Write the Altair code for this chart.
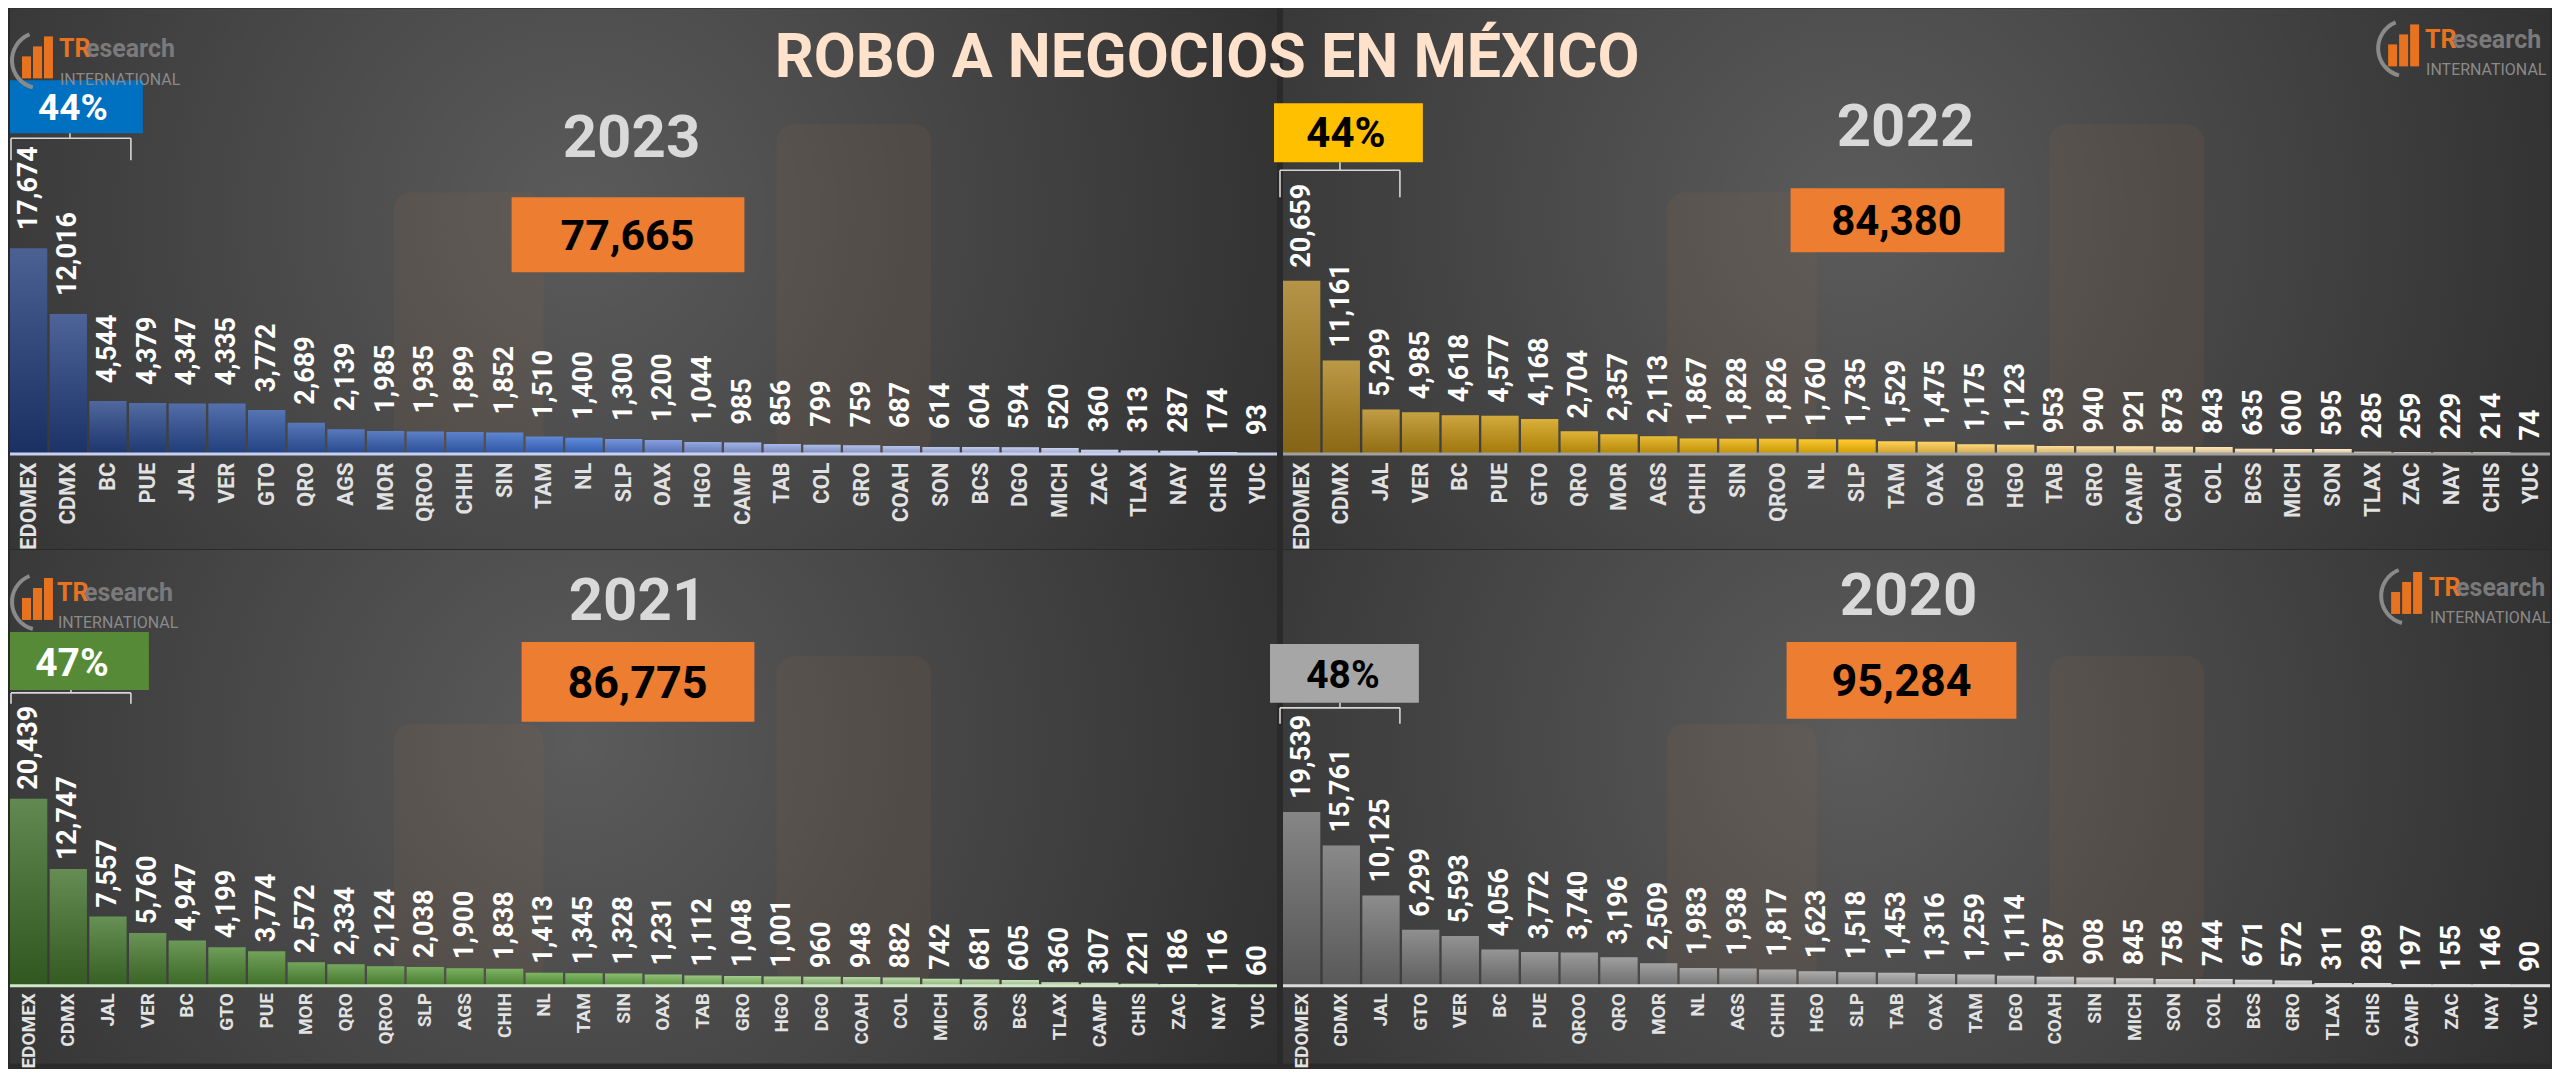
import altair as alt
import pandas as pd

# ---------------- data ----------------
title_text = "ROBO A NEGOCIOS EN MÉXICO"
years = ["2023", "2022", "2021", "2020"]
top_share = ["44%", "44%", "47%", "48%"]

cats_2023 = ["EDOMEX", "CDMX", "BC", "PUE", "JAL", "VER", "GTO", "QRO", "AGS", "MOR", "QROO", "CHIH",
             "SIN", "TAM", "NL", "SLP", "OAX", "HGO", "CAMP", "TAB", "COL", "GRO", "COAH", "SON",
             "BCS", "DGO", "MICH", "ZAC", "TLAX", "NAY", "CHIS", "YUC"]
vals_2023 = [17674, 12016, 4544, 4379, 4347, 4335, 3772, 2689, 2139, 1985, 1935, 1899,
             1852, 1510, 1400, 1300, 1200, 1044, 985, 856, 799, 759, 687, 614,
             604, 594, 520, 360, 313, 287, 174, 93]

cats_2022 = ["EDOMEX", "CDMX", "JAL", "VER", "BC", "PUE", "GTO", "QRO", "MOR", "AGS", "CHIH", "SIN",
             "QROO", "NL", "SLP", "TAM", "OAX", "DGO", "HGO", "TAB", "GRO", "CAMP", "COAH", "COL",
             "BCS", "MICH", "SON", "TLAX", "ZAC", "NAY", "CHIS", "YUC"]
vals_2022 = [20659, 11161, 5299, 4985, 4618, 4577, 4168, 2704, 2357, 2113, 1867, 1828,
             1826, 1760, 1735, 1529, 1475, 1175, 1123, 953, 940, 921, 873, 843,
             635, 600, 595, 285, 259, 229, 214, 74]

cats_2021 = ["EDOMEX", "CDMX", "JAL", "VER", "BC", "GTO", "PUE", "MOR", "QRO", "QROO", "SLP", "AGS",
             "CHIH", "NL", "TAM", "SIN", "OAX", "TAB", "GRO", "HGO", "DGO", "COAH", "COL", "MICH",
             "SON", "BCS", "TLAX", "CAMP", "CHIS", "ZAC", "NAY", "YUC"]
vals_2021 = [20439, 12747, 7557, 5760, 4947, 4199, 3774, 2572, 2334, 2124, 2038, 1900,
             1838, 1413, 1345, 1328, 1231, 1112, 1048, 1001, 960, 948, 882, 742,
             681, 605, 360, 307, 221, 186, 116, 60]

cats_2020 = ["EDOMEX", "CDMX", "JAL", "GTO", "VER", "BC", "PUE", "QROO", "QRO", "MOR", "NL", "AGS",
             "CHIH", "HGO", "SLP", "TAB", "OAX", "TAM", "DGO", "COAH", "SIN", "MICH", "SON", "COL",
             "BCS", "GRO", "TLAX", "CHIS", "CAMP", "ZAC", "NAY", "YUC"]
vals_2020 = [19539, 15761, 10125, 6299, 5593, 4056, 3772, 3740, 3196, 2509, 1983, 1938,
             1817, 1623, 1518, 1453, 1316, 1259, 1114, 987, 908, 845, 758, 744,
             671, 572, 311, 289, 197, 155, 146, 90]

# ---------------- style helpers ----------------
FONT = "Roboto, 'Liberation Sans', sans-serif"
W = 1268
ONE = pd.DataFrame({"k": [0]})


def one():
    return alt.Chart(ONE)


def text(t, x, y, size, color, align="center", weight="bold"):
    return one().mark_text(text=t, align=align, baseline="alphabetic", font=FONT,
                           fontSize=size, fontWeight=weight, color=color
                           ).encode(x=alt.value(x), y=alt.value(y))


def rect(x1, x2, y1, y2, color, **kw):
    return one().mark_rect(color=color, **kw).encode(
        x=alt.value(x1), x2=alt.value(x2), y=alt.value(y1), y2=alt.value(y2))


def rule(x1, x2, y1, y2, color="#d6d6d6", w=1.6):
    return one().mark_rule(color=color, strokeWidth=w).encode(
        x=alt.value(x1), x2=alt.value(x2), y=alt.value(y1), y2=alt.value(y2))


def logo(ix, iy, tx, tb, ib):
    orange = "#E8731F"
    return [
        one().mark_arc(theta=3.4, theta2=5.9, radius=30, radius2=26, color="#8a8a8a").encode(
            x=alt.value(ix + 30), y=alt.value(iy + 30)),
        rect(ix + 12, ix + 21, iy + 26, iy + 48, orange),
        rect(ix + 23, ix + 32, iy + 16, iy + 48, orange),
        rect(ix + 34, ix + 43, iy + 6, iy + 48, orange),
        text("TR", tx, tb, 25, orange, align="left"),
        text("esearch", tx + 27, tb, 25, "#7a7a7a", align="left"),
        text("INTERNATIONAL", tx + 1, ib, 16, "#8a8a8a", align="left", weight="normal"),
    ]


def bracket(x1, x2, xm, ytop, yh, ybot):
    return [rule(x1, x2, yh, yh), rule(x1, x1, yh, ybot), rule(x2, x2, yh, ybot), rule(xm, xm, ytop, yh)]


def build_panel(cats, vals, year, share, s):
    H = s["H"]
    df = pd.DataFrame({"estado": cats, "robos": vals})
    df["orden"] = list(range(len(cats)))

    bg = rect(0, W, 0, s["bg_h"], alt.Gradient(
        gradient="radial",
        stops=[alt.GradientStop(color="#5b5b5b", offset=0),
               alt.GradientStop(color="#3c3c3c", offset=0.6),
               alt.GradientStop(color="#272727", offset=1)],
        x1=0.45, y1=0.45, x2=0.45, y2=0.45, r1=0, r2=0.72))
    wm = [rect(384, 534, H - 262, H, "#C87944", opacity=0.07, cornerRadius=18),
          rect(767, 922, H - 330, H, "#C87944", opacity=0.07, cornerRadius=18)]

    xenc = alt.X("estado:N", sort=cats, title=None,
                 scale=alt.Scale(paddingInner=0.06, paddingOuter=0),
                 axis=alt.Axis(labelAngle=270, labelFont=FONT, labelFontSize=s["lab_size"],
                               labelFontWeight="bold", labelColor="#e2e2e2",
                               labelPadding=s["lab_pad"], domain=False, ticks=False,
                               grid=False, labelOverlap=False, zindex=1))
    yenc = alt.Y("robos:Q", axis=None, scale=alt.Scale(domain=[0, s["ymax"]], nice=False))
    base = alt.Chart(df).encode(x=xenc, y=yenc)
    bars = base.mark_bar().encode(
        color=alt.Color("orden:Q", legend=None,
                        scale=alt.Scale(domain=s["cdom"], range=s["crange"])))
    shade = base.mark_bar(color=alt.Gradient(
        gradient="linear",
        stops=[alt.GradientStop(color="rgba(255,255,255,0.20)", offset=0),
               alt.GradientStop(color="rgba(0,0,0,0.18)", offset=1)],
        x1=0, x2=0, y1=0, y2=1))
    baseline = rule(0, W, H, H, color=s["base_color"], w=3)
    labels = base.mark_text(angle=270, align="left", baseline="middle", dx=s["dx"], font=FONT,
                            fontSize=27, fontWeight="bold", color="#ffffff"
                            ).encode(text=alt.Text("robos:Q", format=","))

    total = f"{sum(vals):,}"
    px1, px2, py1, py2 = s["pct_box"]
    tx1, tx2, ty1, ty2 = s["tot_box"]
    ann = [
        text(year, s["year"][0], s["year"][1], 60, "#d9d9d9"),
        rect(tx1, tx2, ty1, ty2, "#ED7D31"),
        text(total, s["tot_txt"][0], s["tot_txt"][1], s["tot_txt"][2], "#000000"),
        rect(px1, px2, py1, py2, s["pct_fill"]),
        text(share, s["pct_txt"][0], s["pct_txt"][1], s["pct_txt"][2], s["pct_color"]),
    ]
    ann += bracket(*s["bracket"])
    ann += logo(*s["logo"])
    if s.get("title"):
        ann.append(text(title_text, s["title"][0], s["title"][1], 61, "#FFE2CC"))

    layers = [bg] + wm + [bars, shade, baseline, labels] + ann
    return alt.layer(*layers).properties(width=W, height=H)


H1, H2 = 446, 436
styles = {
    "2023": dict(H=H1, bg_h=H1 + 95, ymax=38250, lab_size=22, lab_pad=8, dx=18,
                 cdom=[0, 6, 14, 18, 31],
                 crange=["#203a78", "#2c52a0", "#3b6fd2", "#8ca0e0", "#dde2f6"],
                 base_color="#c9d0ee",
                 year=(622, 149), tot_box=(502, 735, 189, 264), tot_txt=(618, 242, 43),
                 pct_box=(0, 133, 72, 125), pct_fill="#0070C0", pct_txt=(63, 112, 37),
                 pct_color="#ffffff", bracket=(1, 121, 60, 125, 130, 152),
                 logo=(0, 22, 49, 49, 77)),
    "2022": dict(H=H1, bg_h=H1 + 95, ymax=53100, lab_size=22, lab_pad=8, dx=13,
                 cdom=[0, 6, 14, 20, 31],
                 crange=["#a37a1a", "#d09c08", "#ffc000", "#ffdc90", "#fff2e0"],
                 base_color="#a0a0a0",
                 year=(623, 138), tot_box=(508, 722, 180, 244), tot_txt=(614, 227, 42),
                 pct_box=(-9, 140, 95, 154), pct_fill="#FFC000", pct_txt=(63, 139, 42),
                 pct_color="#000000", bracket=(-3, 117, 57, 154, 162, 189),
                 logo=(1094, 10, 1143, 40, 67), title=(-76, 69)),
    "2021": dict(H=H2, bg_h=H2 + 78, ymax=47650, lab_size=19, lab_pad=7, dx=9,
                 cdom=[0, 6, 14, 20, 31],
                 crange=["#3c6b27", "#4e8a33", "#62a840", "#9ccc82", "#e2efd9"],
                 base_color="#d2e6c8",
                 year=(628, 70), tot_box=(512, 745, 92, 172), tot_txt=(628, 148, 45),
                 pct_box=(0, 139, 82, 140), pct_fill="#578A36", pct_txt=(62, 126, 39),
                 pct_color="#ffffff", bracket=(1, 121, 61, 140, 143, 154),
                 logo=(0, 22, 47, 51, 78)),
    "2020": dict(H=H2, bg_h=H2 + 78, ymax=48990, lab_size=19, lab_pad=7, dx=13,
                 cdom=[0, 6, 14, 20, 31],
                 crange=["#686868", "#808080", "#9c9c9c", "#c4c4c4", "#ececec"],
                 base_color="#dcdcdc",
                 year=(626, 65), tot_box=(504, 734, 92, 169), tot_txt=(619, 146, 45),
                 pct_box=(-13, 136, 94, 153), pct_fill="#A6A6A6", pct_txt=(60, 138, 39),
                 pct_color="#000000", bracket=(-3, 117, 57, 153, 158, 174),
                 logo=(1097, 16, 1147, 46, 73)),
}

p23 = build_panel(cats_2023, vals_2023, years[0], top_share[0], styles["2023"])
p22 = build_panel(cats_2022, vals_2022, years[1], top_share[1], styles["2022"])
p21 = build_panel(cats_2021, vals_2021, years[2], top_share[2], styles["2021"])
p20 = build_panel(cats_2020, vals_2020, years[3], top_share[3], styles["2020"])

row1 = alt.hconcat(p23, p22, spacing=6, bounds="flush").resolve_scale(color="independent")
row2 = alt.hconcat(p21, p20, spacing=6, bounds="flush").resolve_scale(color="independent")
chart = alt.vconcat(row1, row2, spacing=0).resolve_scale(color="independent").properties(
    padding=0, background="#2a2a2a").configure_view(stroke=None)

chart.save("out.html", embed_options={"renderer": "svg", "actions": False})
